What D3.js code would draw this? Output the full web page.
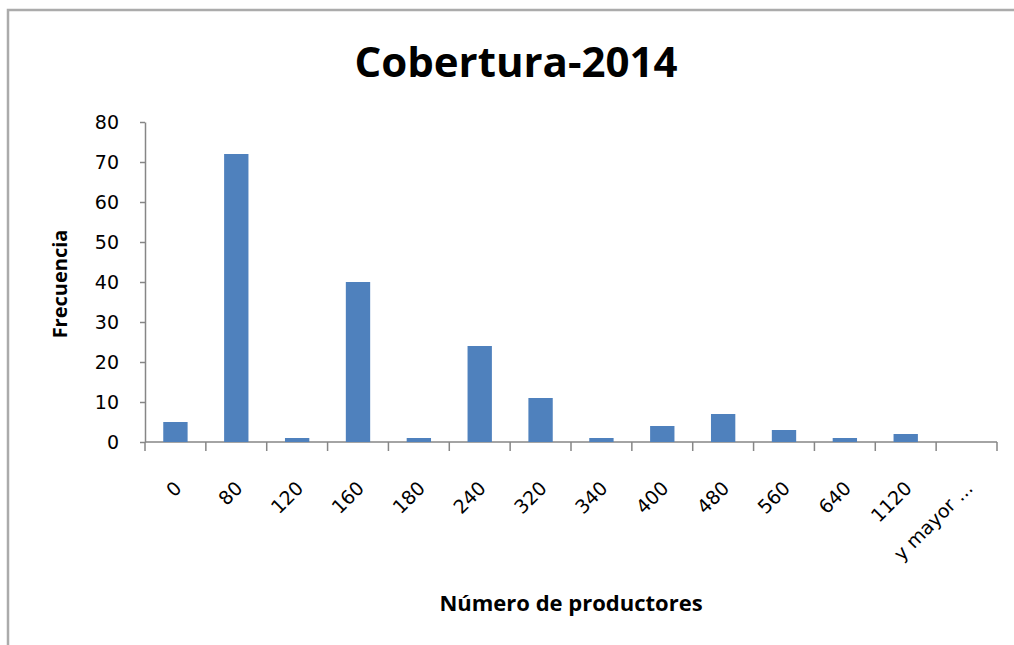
<!DOCTYPE html>
<html>
<head>
<meta charset="utf-8">
<script src="https://cdn.jsdelivr.net/npm/d3@7"></script>
<style>
  body { margin:0; background:#fff; }
</style>
</head>
<body>
<div id="chart"></div>
<script>
// datos del histograma
var categorias = ["0","80","120","160","180","240","320","340","400","480","560","640","1120","y mayor ..."];
var frecuencias = [5, 72, 1, 40, 1, 24, 11, 1, 4, 7, 3, 1, 2, 0];
var yTicks = [0,10,20,30,40,50,60,70,80];

var W = 1014, H = 645;
var margin = {top:122, left:145, right:17, bottom:203};
var width = W - margin.left - margin.right,
    height = H - margin.top - margin.bottom;

var svg = d3.select("#chart").append("svg")
  .attr("width", W).attr("height", H);

// marco del grafico
svg.append("path")
  .attr("fill","none")
  .attr("stroke","#ababab")
  .attr("stroke-width",2.5)
  .attr("d","M8,"+H+" L8,10 L"+W+",10");

svg.append("text")
  .attr("x", 516).attr("y", 77)
  .attr("text-anchor","middle")
  .style("font-family","'Liberation Sans Narrow','Open Sans',sans-serif")
  .style("font-weight","bold")
  .style("font-size","42px")
  .text("Cobertura-2014");

var g = svg.append("g")
  .attr("transform","translate("+margin.left+","+margin.top+")");

var x = d3.scaleBand().domain(categorias).range([0,width]).paddingInner(0.6).paddingOuter(0.3);
var xt = d3.scaleBand().domain(categorias).range([0,width]);
var y = d3.scaleLinear().domain([0,80]).range([height,0]);

// eje y
var yAxis = g.append("g").call(d3.axisLeft(y).tickValues(yTicks).tickSize(5).tickPadding(21).tickSizeOuter(0));
yAxis.select(".domain").attr("stroke","#868686").attr("stroke-width",1.5);
yAxis.selectAll(".tick line").attr("stroke","#868686").attr("stroke-width",1.5);
yAxis.selectAll("text")
  .style("font-family","'DejaVu Sans',sans-serif")
  .style("font-size","19px")
  .attr("fill","#000");

// eje x
var xAxis = g.append("g").attr("transform","translate(0,"+height+")");
xAxis.append("path")
  .attr("stroke","#868686").attr("stroke-width",1.5)
  .attr("d","M0,0H"+width);
xAxis.selectAll(".xt")
  .data(d3.range(categorias.length+1))
  .enter().append("line")
  .attr("class","xt")
  .attr("stroke","#868686").attr("stroke-width",1.5)
  .attr("x1", function(i){ return i*xt.step(); })
  .attr("x2", function(i){ return i*xt.step(); })
  .attr("y1",0).attr("y2",9);

xAxis.selectAll(".xl")
  .data(categorias)
  .enter().append("text")
  .attr("class","xl")
  .attr("text-anchor","end")
  .style("font-family","'DejaVu Sans',sans-serif")
  .style("font-size","19px")
  .attr("fill","#000")
  .attr("transform", function(d){
    return "translate("+(xt(d)+xt.bandwidth()/2-2)+",38) rotate(-45)";
  })
  .attr("dy","0.7em")
  .text(function(d){ return d; });

// barras
g.selectAll(".bar")
  .data(frecuencias)
  .enter().append("rect")
  .attr("class","bar")
  .attr("x", function(d,i){ return x(categorias[i]); })
  .attr("width", x.bandwidth())
  .attr("y", function(d){ return y(d); })
  .attr("height", function(d){ return height - y(d); })
  .attr("fill","#4f81bd");

// titulos de ejes
svg.append("text")
  .attr("transform","translate(67,284) rotate(-90)")
  .attr("text-anchor","middle")
  .style("font-family","'Open Sans',sans-serif")
  .style("font-weight","bold")
  .style("font-size","20px")
  .text("Frecuencia");

svg.append("text")
  .attr("x",571).attr("y",611)
  .attr("text-anchor","middle")
  .style("font-family","'Open Sans',sans-serif")
  .style("font-weight","bold")
  .style("font-size","22px")
  .text("Número de productores");
</script>
</body>
</html>
